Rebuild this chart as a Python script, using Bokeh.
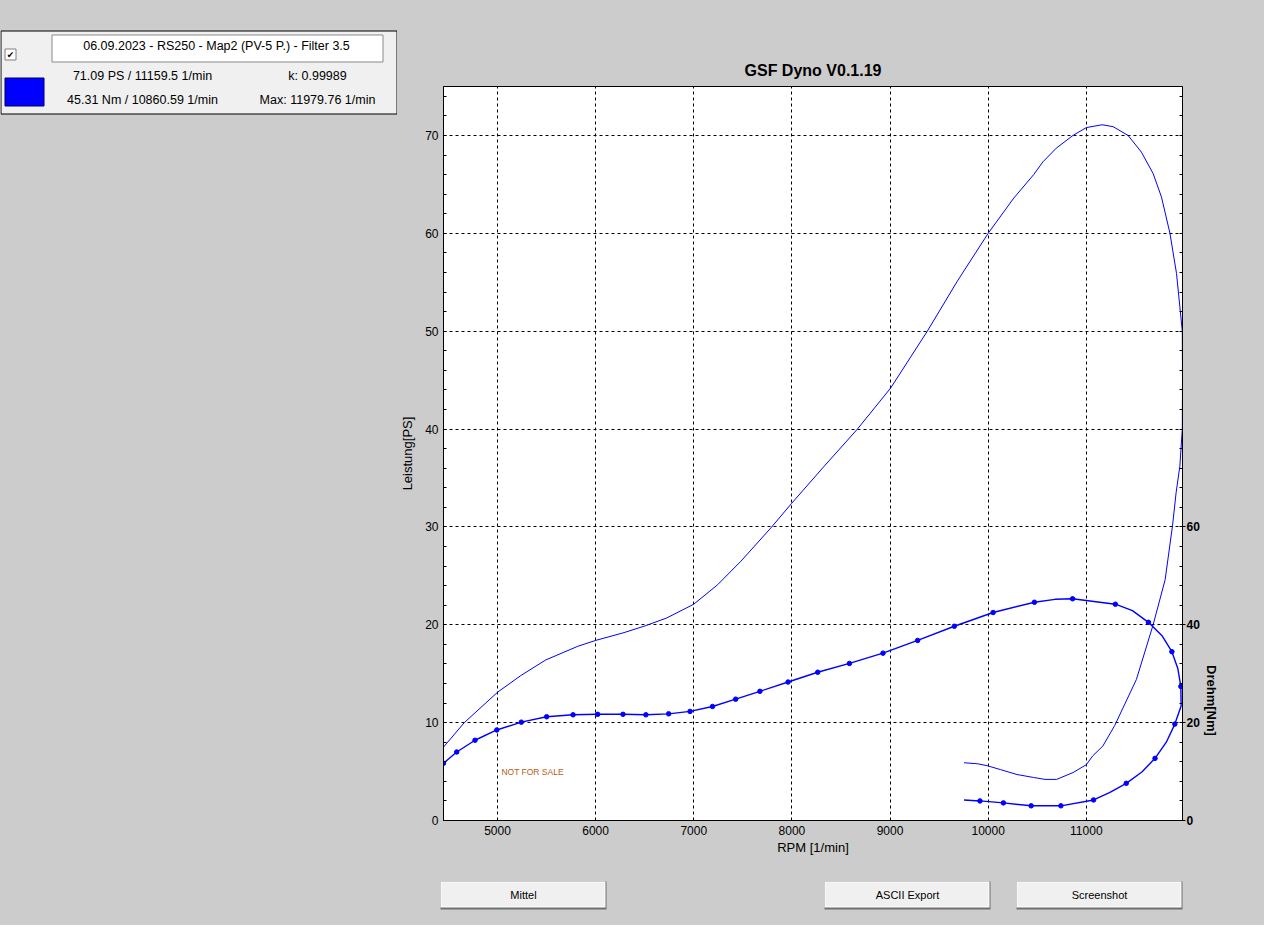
import math

from bokeh.plotting import figure
from bokeh.layouts import row, column
from bokeh.models import Range1d, LinearAxis, FixedTicker, Label
from bokeh.core.properties import value
from bokeh.embed import file_html
from bokeh.resources import INLINE

# power curve (PS), in recorded order: run-up, top, roll-out
pw_rpm = [4450, 4662, 5000, 5236, 5491, 5818, 6000, 6290, 6508, 6726,
          7000, 7244, 7481, 7786, 7997, 8329, 8668, 9007, 9380, 9685,
          10000, 10261, 10464, 10558, 10694, 10864, 11000, 11160, 11272, 11425,
          11561, 11681, 11766, 11852, 11919, 11953, 11978, 11980, 11978, 11953,
          11915, 11878, 11803, 11681, 11510, 11289, 11168, 11065, 11000, 10865,
          10697, 10579, 10461, 10293, 10125, 9990, 9889, 9754]
pw_ps = [7.5, 10.0, 13.1, 14.8, 16.4, 17.8, 18.4, 19.2, 19.9, 20.7,
         22.1, 24.1, 26.5, 29.9, 32.4, 36.2, 40.0, 44.2, 50.0, 55.1,
         60.0, 63.6, 66.0, 67.3, 68.7, 70.0, 70.8, 71.09, 70.9, 70.0,
         68.3, 66.1, 63.7, 60.0, 55.9, 52.5, 50.0, 45.0, 40.0, 36.2,
         33.5, 30.1, 24.6, 20.0, 14.4, 9.7, 7.6, 6.6, 5.7, 4.9,
         4.2, 4.2, 4.4, 4.7, 5.2, 5.6, 5.8, 5.9]

# torque trace (Nm), full line
tq_line_rpm = [4450, 4585, 4771, 4993, 5243, 5501, 5770, 6021, 6279, 6512,
               6744, 6962, 7191, 7427, 7674, 7961, 8263, 8586, 8928, 9281,
               9655, 10050, 10471, 10680, 10860, 11296, 11470, 11633, 11774, 11872,
               11933, 11963, 11966, 11902, 11815, 11700, 11566, 11407, 11236, 11074,
               10741, 10438, 10155, 9916, 9754]
tq_line_nm = [11.7, 14.0, 16.4, 18.5, 20.1, 21.2, 21.6, 21.7, 21.7, 21.6,
              21.8, 22.3, 23.3, 24.8, 26.4, 28.3, 30.3, 32.1, 34.2, 36.8,
              39.7, 42.5, 44.6, 45.2, 45.31, 44.2, 42.9, 40.5, 37.7, 34.5,
              31.0, 27.4, 23.4, 19.7, 16.0, 12.7, 9.9, 7.6, 5.7, 4.2,
              3.0, 3.0, 3.6, 4.0, 4.2]
# torque sample points (dots)
tq_rpm = [4450, 4585, 4771, 4993, 5243, 5501, 5770, 6021, 6279, 6512,
          6744, 6962, 7191, 7427, 7674, 7961, 8263, 8586, 8928, 9281,
          9655, 10050, 10471, 10860, 11296, 11633, 11872, 11963, 11902, 11700,
          11407, 11074, 10741, 10438, 10155, 9916]
tq_nm = [11.7, 14.0, 16.4, 18.5, 20.1, 21.2, 21.6, 21.7, 21.7, 21.6,
         21.8, 22.3, 23.3, 24.8, 26.4, 28.3, 30.3, 32.1, 34.2, 36.8,
         39.7, 42.5, 44.6, 45.31, 44.2, 40.5, 34.5, 27.4, 19.7, 12.7,
         7.6, 4.2, 3.0, 3.0, 3.6, 4.0]

x_ticks = [5000, 6000, 7000, 8000, 9000, 10000, 11000]
ps_ticks = [0, 10, 20, 30, 40, 50, 60, 70]
nm_ticks = [0, 20, 40, 60]

run_name = "06.09.2023 - RS250 - Map2 (PV-5 P.) - Filter 3.5"
run_info_left = ["71.09 PS / 11159.5 1/min", "45.31 Nm / 10860.59 1/min"]
run_info_right = ["k: 0.99989", "Max: 11979.76 1/min"]
button_names = ["Mittel", "ASCII Export", "Screenshot"]

FONT = "Liberation Sans"
BLUE = "#0000ff"
GRAY = "#cccccc"


def panel(w, h):
    """Plain gray figure whose data units are pixels (y grows downward)."""
    f = figure(width=w, height=h, x_range=Range1d(0, w), y_range=Range1d(h, 0),
               x_axis_type=None, y_axis_type=None, min_border=0, frame_align=False,
               output_backend="svg", toolbar_location=None)
    f.background_fill_color = GRAY
    f.border_fill_color = GRAY
    f.outline_line_color = None
    return f


def label(f, x, y, s, size="12.5px", style="normal", angle=0, font=FONT):
    f.text([x], [y], text=[s], text_font=value(font), text_font_size=size,
           text_font_style=style, text_color="black", text_align="center",
           text_baseline="middle", angle=angle)


# ---------------- main chart ----------------
MW, MH = 805, 870
p = figure(width=MW, height=MH, title="GSF Dyno V0.1.19",
           x_range=Range1d(4450, 11980), y_range=Range1d(0, 75),
           output_backend="svg", toolbar_location=None, frame_align=False,
           min_border_left=43, min_border_right=20,
           min_border_top=86, min_border_bottom=50)
p.border_fill_color = GRAY
p.background_fill_color = "white"
p.outline_line_color = "black"
p.outline_line_alpha = 1

p.title.align = "center"
p.title.text_font = FONT
p.title.text_font_size = "16px"
p.title.text_font_style = "bold"
p.title.text_color = "black"
p.title.standoff = 16

xa = p.xaxis[0]
xa.ticker = FixedTicker(ticks=x_ticks, minor_ticks=[])
xa.axis_label = "RPM [1/min]"
xa.major_label_standoff = 5
xa.axis_label_standoff = 2

ya = p.yaxis[0]
ya.ticker = FixedTicker(ticks=ps_ticks, minor_ticks=list(range(0, 76, 2)))
ya.axis_label = "Leistung[PS]"
ya.major_label_standoff = 5
ya.axis_label_standoff = 7

p.extra_y_ranges = {"nm": Range1d(0, 150)}
ra = LinearAxis(y_range_name="nm",
                ticker=FixedTicker(ticks=nm_ticks, minor_ticks=list(range(0, 151, 4))))
p.add_layout(ra, "right")
ra.major_tick_out = 3
ra.major_label_standoff = 1
ra.major_label_text_font_style = "bold"

for ax in (xa, ya, ra):
    ax.axis_line_color = "black"
    ax.major_tick_line_color = "black"
    ax.minor_tick_line_color = "black"
    ax.major_label_text_font = FONT
    ax.major_label_text_font_size = "12px"
    ax.major_label_text_color = "black"
    ax.axis_label_text_font = FONT
    ax.axis_label_text_font_size = "13px"
    ax.axis_label_text_font_style = "normal"
    ax.axis_label_text_color = "black"
    ax.major_tick_in = 0
    ax.minor_tick_in = 3
    ax.minor_tick_out = 0
xa.major_tick_out = 0
ya.major_tick_out = 0

p.xgrid.ticker = FixedTicker(ticks=x_ticks)
p.ygrid.ticker = FixedTicker(ticks=ps_ticks[1:])
for g in (p.xgrid, p.ygrid):
    g.grid_line_color = "black"
    g.grid_line_dash = "3 3"
    g.grid_line_width = 1

p.line(pw_rpm, pw_ps, line_color=BLUE, line_width=1)
p.line(tq_line_rpm, tq_line_nm, y_range_name="nm", line_color=BLUE, line_width=1.4)
p.scatter(tq_rpm, tq_nm, y_range_name="nm", size=4.5, color=BLUE)

p.add_layout(Label(x=5040, y=5, text="NOT FOR SALE", text_font=FONT,
                   text_font_size="8.5px", text_color="#b85c10",
                   text_baseline="middle"))

# ---------------- right strip with the torque axis title ----------------
rs = panel(62, MH)
label(rs, 9, 700, "Drehm[Nm]", size="13px", style="bold", angle=-math.pi / 2)

# ---------------- left strip with the run legend ----------------
lp = panel(397, MH)
lp.quad(left=0.5, right=396.5, top=30.5, bottom=113.5, fill_color="#f0f0f0", line_color="black")
lp.quad(left=4.5, right=15.5, top=48.5, bottom=59.5, fill_color="white", line_color="#808080")
label(lp, 10, 54, "\u2714", size="9px", font="DejaVu Sans")
lp.quad(left=51.5, right=382.5, top=34.5, bottom=61.5, fill_color="white", line_color="#8a8a8a")
label(lp, 216, 45, run_name)
lp.quad(left=4.5, right=43.5, top=77.5, bottom=105.5, fill_color=BLUE, line_color="#000060")
for i, (lt, rt) in enumerate(zip(run_info_left, run_info_right)):
    label(lp, 142, 75 + 24.5 * i, lt)
    label(lp, 317, 75 + 24.5 * i, rt)

# ---------------- buttons ----------------
bt = panel(1264, 55)
for name, bx in zip(button_names, [440, 824, 1016]):
    bt.quad(left=bx, right=bx + 166, top=11, bottom=39, fill_color="#6e6e6e", line_color=None)
    bt.quad(left=bx, right=bx + 165, top=11, bottom=37, fill_color="white", line_color=None)
    bt.quad(left=bx + 1, right=bx + 164, top=12, bottom=36, fill_color="#f0f0f0", line_color=None)
    label(bt, bx + 83, 24.5, name, size="11px")

layout = column(row(lp, p, rs), bt, styles={"background-color": GRAY})

open("out.html", "w").write(file_html(layout, INLINE))
